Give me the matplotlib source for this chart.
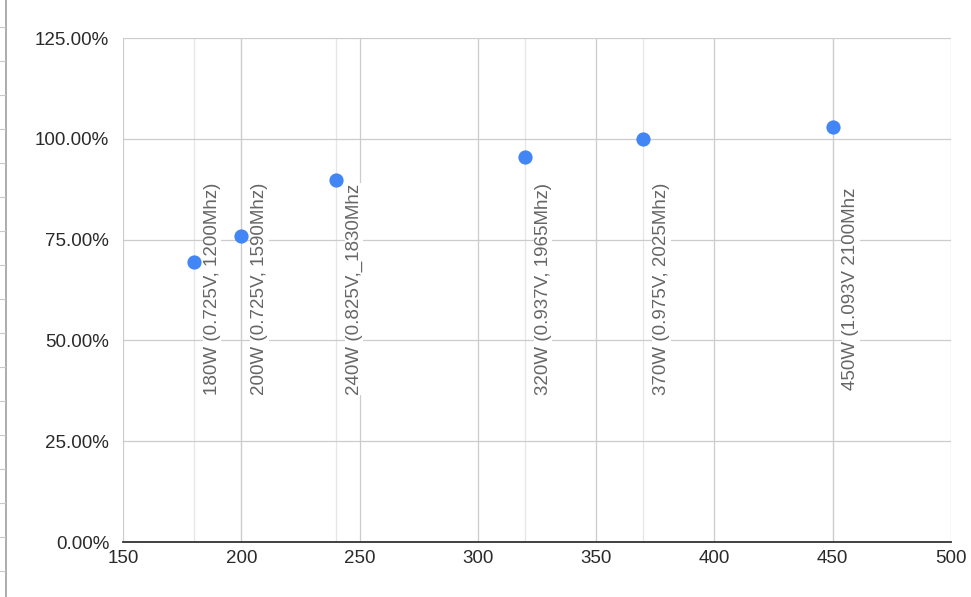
import matplotlib
matplotlib.use("Agg")
import matplotlib.pyplot as plt
from matplotlib.ticker import FuncFormatter, MultipleLocator
from matplotlib.lines import Line2D

# power limit (W) vs relative performance (%)
watts = [180, 200, 240, 320, 370, 450]
perf = [69.4, 75.9, 89.8, 95.5, 100.0, 102.9]
labels = [
    "180W (0.725V, 1200Mhz)",
    "200W (0.725V, 1590Mhz)",
    "240W (0.825V,_1830Mhz",
    "320W (0.937V, 1965Mhz)",
    "370W (0.975V, 2025Mhz)",
    "450W (1.093V 2100Mhz",
]

plt.rcParams['font.family'] = ['Liberation Sans', 'DejaVu Sans']

fig = plt.figure(figsize=(9.71, 5.97), dpi=100)
ax = fig.add_axes([0.1267, 0.0921, 0.8527, 0.8442])

ax.set_xlim(150, 500)
ax.set_ylim(0, 125)
ax.xaxis.set_major_locator(MultipleLocator(50))
ax.yaxis.set_major_locator(MultipleLocator(25))
ax.yaxis.set_major_formatter(FuncFormatter(lambda v, p: f"{v:.2f}%"))

# light lines at each data x, then the major grid
for w in watts:
    ax.axvline(w, color='#e6e6e6', lw=0.9, zorder=0)
ax.grid(True, color='#cccccc', lw=0.9, zorder=0.5)
ax.set_axisbelow(True)

for side in ['top', 'right', 'left']:
    ax.spines[side].set_visible(False)
ax.spines['bottom'].set_color('#333333')
ax.spines['bottom'].set_linewidth(1.3)
ax.spines['bottom'].set_zorder(3)

ax.tick_params(length=0, labelsize=13.5, labelcolor='#2a2a2a')
ax.tick_params(axis='y', pad=10)
ax.tick_params(axis='x', pad=6)

ax.scatter(watts, perf, s=105, color='#4285f4', zorder=4, linewidths=0)

for w, t in zip(watts, labels):
    ax.annotate(t, xy=(w, 0.502), xycoords=('data', 'axes fraction'),
                xytext=(13, 0), textcoords='offset points',
                rotation=90, ha='center', va='center',
                fontsize=13.5, color='#666666', zorder=3,
                bbox=dict(facecolor='white', edgecolor='none', pad=0.5))

# spreadsheet row border at the far left
fig.add_artist(Line2D([6 / 971, 6 / 971], [0, 1], color='#9e9e9e', lw=1.2))
for py in range(27, 597, 34):
    yy = 1 - py / 597
    fig.add_artist(Line2D([0, 5 / 971], [yy, yy], color='#c8c8c8', lw=0.8))

fig.savefig("out.png", dpi=100, facecolor='white')
